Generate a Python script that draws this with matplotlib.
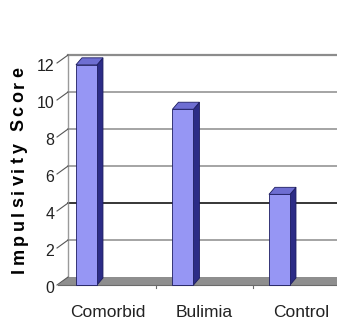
import matplotlib
matplotlib.use('Agg')
import matplotlib.pyplot as plt
from matplotlib.patches import Polygon
from matplotlib.font_manager import FontProperties

categories = ['Comorbid', 'Bulimia', 'Control']
scores = [11.9, 9.5, 4.9]
yticks = [0, 2, 4, 6, 8, 10, 12]
ylabel = 'Impulsivity Score'

# pseudo-3d geometry, in data units
WALL_DX, WALL_DY = 0.104, 0.43
BAR_DX, BAR_DY = 0.062, 0.38
BAR_OFF, BAR_W = -0.223, 0.218
FRONT_LEFT = -0.518

FRONT = '#9696f4'
SIDE = '#2c2c86'
TOP = '#6e6ed2'
EDGE = '#1c1c60'
NARROW = ['Liberation Sans', 'DejaVu Sans']

fig = plt.figure(figsize=(3.37, 3.27), dpi=100)
ax = fig.add_axes([0, 0, 1, 1])
ax.set_xlim(-1.119, 2.373)
ax.set_ylim(-2.270, 15.405)
ax.axis('off')

xr_end = 2.6
wall_left = FRONT_LEFT + WALL_DX

# back wall gridlines
for v in yticks[1:]:
    col = 'black' if v == 4 else '#8c8c8c'
    lw = 1.6 if v == 12 else 1.1
    ax.plot([wall_left, xr_end], [v + WALL_DY, v + WALL_DY], color=col, lw=lw, zorder=1)
ax.plot([wall_left, wall_left], [WALL_DY, yticks[-1] + WALL_DY], color='#9a9a9a', lw=1.0, zorder=1)

# floor
floor = Polygon([(FRONT_LEFT, 0), (xr_end, 0), (xr_end, WALL_DY), (wall_left, WALL_DY)],
                closed=True, facecolor='#8e8e8e', edgecolor='none', zorder=2)
ax.add_patch(floor)
ax.plot([FRONT_LEFT, xr_end], [-0.02, -0.02], color='#6a6a6a', lw=0.8, zorder=2)
for b in [0.5, 1.5]:
    ax.plot([b, b], [0, -0.18], color='#6a6a6a', lw=0.8, zorder=2)

# left axis ticks (slanted) and labels
for v in yticks:
    ax.plot([FRONT_LEFT - 0.01, wall_left], [v, v + WALL_DY], color='#555555', lw=0.8, zorder=2)
    ax.text(FRONT_LEFT - 0.04, v - 0.2, str(v), ha='right', va='center', fontsize=11.5,
            family=NARROW, color='#222222')

# bars
xs = [i + BAR_OFF for i in range(len(categories))]
ax.bar(xs, scores, width=BAR_W, color=FRONT, edgecolor=EDGE, linewidth=0.6, zorder=4)
for x, v in zip(xs, scores):
    xl, xr = x - BAR_W / 2, x + BAR_W / 2
    side = Polygon([(xr, 0), (xr + BAR_DX, BAR_DY), (xr + BAR_DX, v + BAR_DY), (xr, v)],
                   closed=True, facecolor=SIDE, edgecolor=EDGE, lw=0.6, zorder=3)
    top = Polygon([(xl, v), (xr, v), (xr + BAR_DX, v + BAR_DY), (xl + BAR_DX, v + BAR_DY)],
                  closed=True, facecolor=TOP, edgecolor=EDGE, lw=0.6, zorder=3)
    ax.add_patch(side)
    ax.add_patch(top)

# category labels
for i, c in enumerate(categories):
    ax.text(i, -1.46, c, ha='center', va='center', fontsize=12.5,
            family=NARROW, color='#222222')

# letter-spaced vertical y label
fp = FontProperties(family=['Liberation Sans', 'DejaVu Sans'], weight='bold', size=13)
renderer = fig.canvas.get_renderer()
widths = [renderer.get_text_width_height_descent(ch, fp, ismath=False)[0] for ch in ylabel]
span_px = 206.0
gap = (span_px - sum(widths)) / (len(ylabel) - 1)
py = 273.0  # bottom of label, pixels from top
W, H = fig.bbox.width, fig.bbox.height
for ch, w in zip(ylabel, widths):
    fig.text(23.5 / W, (H - py) / H, ch, rotation=90, rotation_mode='anchor',
             ha='left', va='baseline', fontproperties=fp, color='black')
    py -= w + gap

fig.savefig('out.png', dpi=100)
